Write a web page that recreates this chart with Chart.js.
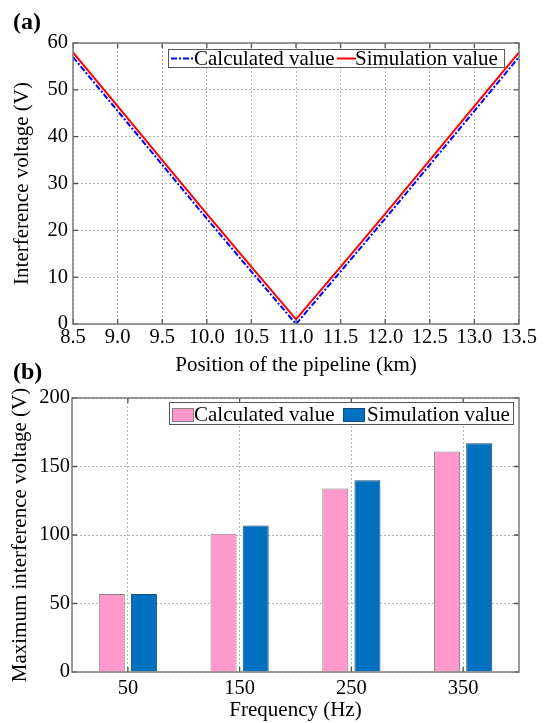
<!DOCTYPE html>
<html>
<head>
<meta charset="utf-8">
<script src="https://cdn.jsdelivr.net/npm/chart.js@4.4.1/dist/chart.umd.min.js"></script>
<style>
  html, body { margin: 0; padding: 0; background: #fff; overflow: hidden; }
  #page { position: relative; width: 544px; height: 723px; font-family: "Liberation Serif", "Times New Roman", serif; color: #000; }
  #page canvas { position: absolute; left: 0; }
  .panel { position: absolute; left: 13px; font-size: 24px; font-weight: bold; line-height: 24px; }
  .legend { position: absolute; box-sizing: border-box; border: 1px solid #555; background: #fff; font-size: 21px; white-space: nowrap; }
  .legend > * { position: absolute; }
  .swatch { box-sizing: border-box; border: 1px solid; }
</style>
</head>
<body>
<div id="page">
  <canvas id="chartPosition" width="544" height="385" style="top:0"></canvas>
  <canvas id="chartFrequency" width="544" height="368" style="top:355px"></canvas>

  <div class="panel" style="top:9px">(a)</div>
  <div class="panel" style="top:359px">(b)</div>

  <div class="legend" style="left:168px;top:49px;width:337px;height:19px;line-height:17px">
    <svg style="left:2px;top:7px" width="23" height="3"><line x1="0" y1="1.5" x2="23" y2="1.5" stroke="#0000ff" stroke-width="2" stroke-dasharray="6 2 2 2"/></svg>
    <span style="left:25px;top:0">Calculated value</span>
    <svg style="left:168px;top:7px" width="19" height="3"><line x1="0" y1="1.5" x2="19" y2="1.5" stroke="#ff0000" stroke-width="2"/></svg>
    <span style="left:186px;top:0">Simulation value</span>
  </div>

  <div class="legend" style="left:169px;top:402px;width:345px;height:23px;line-height:23px">
    <div class="swatch" style="left:2px;top:5px;width:22px;height:14px;background:#ff99cc;border-color:#808080"></div>
    <span style="left:24px;top:0">Calculated value</span>
    <div class="swatch" style="left:173px;top:5px;width:22px;height:14px;background:#0070c0;border-color:#1c4a78"></div>
    <span style="left:197px;top:0">Simulation value</span>
  </div>
</div>

<script>
// (a) voltage along the pipeline
const positionKm = [8.5, 9.0, 9.5, 10.0, 10.5, 11.0, 11.5, 12.0, 12.5, 13.0, 13.5];
const calculatedV = [57, 45.5, 34, 22.5, 11.2, 0, 11.2, 22.5, 34, 45.5, 57];
const simulationV = [58, 46.5, 35, 23.5, 12.2, 1, 12.2, 23.5, 35, 46.5, 58];
const kmTicks = [8.5, 9.0, 9.5, 10.0, 10.5, 11.0, 11.5, 12.0, 12.5, 13.0, 13.5];
const voltageTicks = [0, 10, 20, 30, 40, 50, 60];

// (b) maximum voltage per frequency
const frequencyHz = ["50", "150", "250", "350"];
const calculatedMax = [57, 101, 134, 161];
const simulationMax = [57, 107, 140, 167];
const maxVoltageTicks = [0, 50, 100, 150, 200];

Chart.defaults.font.family = "'Liberation Serif', 'Times New Roman', serif";
Chart.defaults.color = "#000";

// box around the plot area plus short inward tick marks on all four sides
const frameTicks = {
  id: "frameTicks",
  afterDraw(chart) {
    const { ctx, chartArea: a, scales } = chart;
    const len = 5;
    ctx.save();
    ctx.strokeStyle = "#505050";
    ctx.lineWidth = 1.3;
    ctx.beginPath();
    scales.x.ticks.forEach((t, i) => {
      const px = scales.x.getPixelForTick(i);
      ctx.moveTo(px, a.bottom); ctx.lineTo(px, a.bottom - len);
      ctx.moveTo(px, a.top); ctx.lineTo(px, a.top + len);
    });
    scales.y.ticks.forEach((t, i) => {
      const py = scales.y.getPixelForTick(i);
      ctx.moveTo(a.left, py); ctx.lineTo(a.left + len, py);
      ctx.moveTo(a.right, py); ctx.lineTo(a.right - len, py);
    });
    ctx.stroke();
    ctx.strokeStyle = "#7a7a7a";
    ctx.lineWidth = 1.5;
    ctx.strokeRect(a.left, a.top, a.right - a.left, a.bottom - a.top);
    ctx.restore();
  }
};

const fixedTicks = (values) => (scale) => {
  scale.ticks = values.map((v) => ({ value: v }));
};

const gridStyle = { color: "#b4b4b4", lineWidth: 1, drawTicks: false };
const gridBorder = { display: false, dash: [2, 2] };

let chartPosition = new Chart(document.getElementById("chartPosition"), {
  type: "line",
  data: {
    datasets: [
      {
        label: "Calculated value",
        data: positionKm.map((x, i) => ({ x, y: calculatedV[i] })),
        borderColor: "#0000ff",
        borderWidth: 2,
        borderDash: [6, 2, 2, 2],
        pointRadius: 0,
        tension: 0
      },
      {
        label: "Simulation value",
        data: positionKm.map((x, i) => ({ x, y: simulationV[i] })),
        borderColor: "#ff0000",
        borderWidth: 2,
        pointRadius: 0,
        tension: 0
      }
    ]
  },
  options: {
    responsive: false,
    animation: false,
    layout: { padding: { top: 43, right: 25, left: 0, bottom: 0 } },
    plugins: { legend: { display: false }, tooltip: { enabled: false } },
    scales: {
      x: {
        type: "linear",
        min: 8.5,
        max: 13.5,
        afterBuildTicks: fixedTicks(kmTicks),
        afterFit: (s) => { s.height = 61; },
        grid: gridStyle,
        border: gridBorder,
        ticks: { padding: 1, font: { size: 20.5 }, maxRotation: 0, callback: (v) => v.toFixed(1) },
        title: { display: true, text: "Position of the pipeline (km)", font: { size: 21 }, padding: { top: 0, bottom: 7 } }
      },
      y: {
        min: 0,
        max: 60,
        afterBuildTicks: fixedTicks(voltageTicks),
        afterFit: (s) => { s.width = 73; },
        grid: gridStyle,
        border: gridBorder,
        ticks: { padding: 5, font: { size: 20.5 } },
        title: { display: true, text: "Interference voltage (V)", font: { size: 21 }, padding: { top: 10, bottom: 0 } }
      }
    }
  },
  plugins: [frameTicks]
});

let chartFrequency = new Chart(document.getElementById("chartFrequency"), {
  type: "bar",
  data: {
    labels: frequencyHz,
    datasets: [
      {
        label: "Calculated value",
        data: calculatedMax,
        backgroundColor: "#ff99cc",
        borderColor: "#808080",
        borderWidth: 1
      },
      {
        label: "Simulation value",
        data: simulationMax,
        backgroundColor: "#0070c0",
        borderColor: "#1c4a78",
        borderWidth: 1
      }
    ]
  },
  options: {
    responsive: false,
    animation: false,
    categoryPercentage: 0.575,
    barPercentage: 0.81,
    layout: { padding: { top: 43, right: 25, left: 0, bottom: 0 } },
    plugins: { legend: { display: false }, tooltip: { enabled: false } },
    scales: {
      x: {
        offset: true,
        afterFit: (s) => { s.height = 51; },
        grid: { ...gridStyle, offset: false },
        border: gridBorder,
        ticks: { padding: 4, font: { size: 20.5 }, maxRotation: 0 },
        title: { display: true, text: "Frequency (Hz)", font: { size: 21 }, padding: { top: 0, bottom: 0 } }
      },
      y: {
        min: 0,
        max: 200,
        afterBuildTicks: fixedTicks(maxVoltageTicks),
        afterFit: (s) => { s.width = 72; },
        grid: gridStyle,
        border: gridBorder,
        ticks: { padding: 2, font: { size: 20.5 } },
        title: { display: true, text: "Maximum interference voltage (V)", font: { size: 21 }, padding: { top: 8, bottom: 0 } }
      }
    }
  },
  plugins: [frameTicks]
});
</script>
</body>
</html>
